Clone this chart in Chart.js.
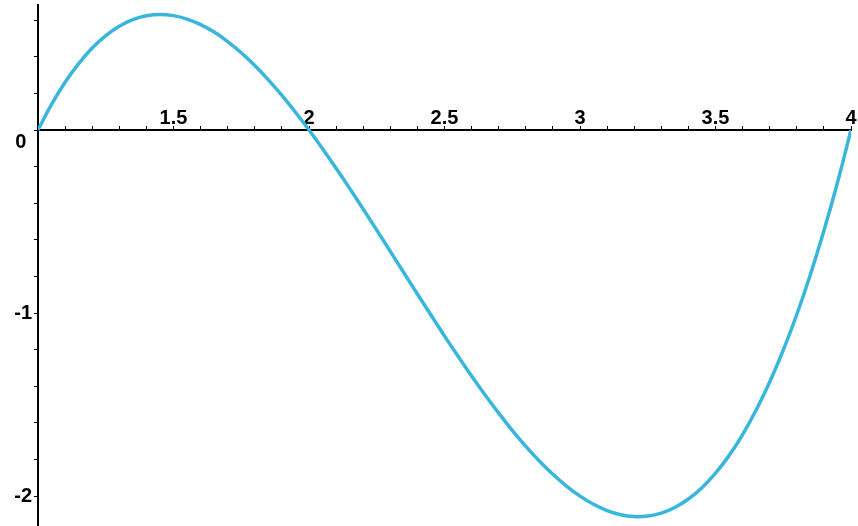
<!DOCTYPE html>
<html>
<head>
  <meta charset="UTF-8" />
  <title>Cubic curve</title>
  <script src="https://cdn.jsdelivr.net/npm/chart.js"></script>
  <style>
    html, body {
      margin: 0;
      padding: 0;
      background-color: #fff;
    }
    #chartContainer {
      width: 858px;
      height: 526px;
    }
  </style>
</head>
<body>
  <div id="chartContainer">
    <canvas id="curveChart"></canvas>
  </div>

  <script>
    // values, x step 0.05
    const xValues = [1.00, 1.05, 1.10, 1.15, 1.20, 1.25, 1.30, 1.35, 1.40, 1.45,
                     1.50, 1.55, 1.60, 1.65, 1.70, 1.75, 1.80, 1.85, 1.90, 1.95,
                     2.00, 2.05, 2.10, 2.15, 2.20, 2.25, 2.30, 2.35, 2.40, 2.45,
                     2.50, 2.55, 2.60, 2.65, 2.70, 2.75, 2.80, 2.85, 2.90, 2.95,
                     3.00, 3.05, 3.10, 3.15, 3.20, 3.25, 3.30, 3.35, 3.40, 3.45,
                     3.50, 3.55, 3.60, 3.65, 3.70, 3.75, 3.80, 3.85, 3.90, 3.95, 4.00];
    const yValues = [0, 0.140, 0.261, 0.363, 0.448, 0.516, 0.567, 0.603, 0.624, 0.631,
                     0.625, 0.606, 0.576, 0.535, 0.483, 0.422, 0.352, 0.274, 0.189, 0.097,
                     0, -0.102, -0.209, -0.319, -0.432, -0.547, -0.663, -0.780, -0.896, -1.011,
                     -1.125, -1.236, -1.344, -1.448, -1.547, -1.641, -1.728, -1.808, -1.881, -1.945,
                     -2.000, -2.045, -2.079, -2.102, -2.112, -2.109, -2.093, -2.062, -2.016, -1.954,
                     -1.875, -1.779, -1.664, -1.530, -1.377, -1.203, -1.008, -0.791, -0.551, -0.288, 0];

    const xTicks = [1.0, 1.1, 1.2, 1.3, 1.4, 1.5, 1.6, 1.7, 1.8, 1.9,
                    2.0, 2.1, 2.2, 2.3, 2.4, 2.5, 2.6, 2.7, 2.8, 2.9,
                    3.0, 3.1, 3.2, 3.3, 3.4, 3.5, 3.6, 3.7, 3.8, 3.9, 4.0];
    const xLabels = ['1.5', '2', '2.5', '3', '3.5', '4'];
    const yTicks = [0.6, 0.4, 0.2, 0, -0.2, -0.4, -0.6, -0.8, -1.0,
                    -1.2, -1.4, -1.6, -1.8, -2.0];
    const yLabels = ['0', '-1', '-2'];

    const points = xValues.map((x, i) => ({ x: x, y: yValues[i] }));
    const labelFont = { family: "'Liberation Sans', Arial, sans-serif", size: 20, weight: 'bold' };

    function fmt(v) {
      return String(Math.round(v * 10) / 10);
    }

    function noPadding(scale) {
      scale.paddingLeft = 0;
      scale.paddingRight = 0;
      scale.paddingTop = 0;
      scale.paddingBottom = 0;
    }

    new Chart(document.getElementById('curveChart'), {
      type: 'scatter',
      data: {
        datasets: [{
          data: points,
          showLine: true,
          borderColor: '#38b6dc',
          borderWidth: 3.5,
          pointRadius: 0,
          tension: 0.4,
          fill: false
        }]
      },
      options: {
        responsive: true,
        maintainAspectRatio: false,
        animation: false,
        layout: { padding: { left: 0, right: 7, top: 5, bottom: 1 } },
        plugins: {
          legend: { display: false },
          tooltip: { enabled: false }
        },
        scales: {
          x: {
            type: 'linear',
            min: 1,
            max: 4,
            position: { y: 0 },
            afterBuildTicks: (scale) => { scale.ticks = xTicks.map(v => ({ value: v })); },
            afterFit: noPadding,
            border: { display: true, color: '#000', width: 2 },
            grid: { drawOnChartArea: false, drawTicks: true, tickLength: -5, tickColor: '#000', tickWidth: 1 },
            ticks: {
              mirror: true,
              padding: 5,
              maxRotation: 0,
              autoSkip: false,
              color: '#000',
              font: labelFont,
              callback: (v) => xLabels.includes(fmt(v)) ? fmt(v) : ''
            }
          },
          y: {
            type: 'linear',
            min: -2.158,
            max: 0.683,
            position: 'left',
            afterBuildTicks: (scale) => { scale.ticks = yTicks.map(v => ({ value: v })); },
            afterFit: (scale) => { noPadding(scale); scale.width = 38; },
            border: { display: true, color: '#000', width: 2 },
            grid: { drawOnChartArea: false, drawTicks: true, tickLength: 4, tickColor: '#000', tickWidth: 1 },
            ticks: {
              padding: 2,
              autoSkip: false,
              color: '#000',
              font: labelFont,
              // the 0 label sits just under the x axis
              callback: (v) => {
                const s = fmt(v);
                if (s === '0') return ['', '0 '];
                return yLabels.includes(s) ? s : '';
              }
            }
          }
        }
      }
    });
  </script>
</body>
</html>
